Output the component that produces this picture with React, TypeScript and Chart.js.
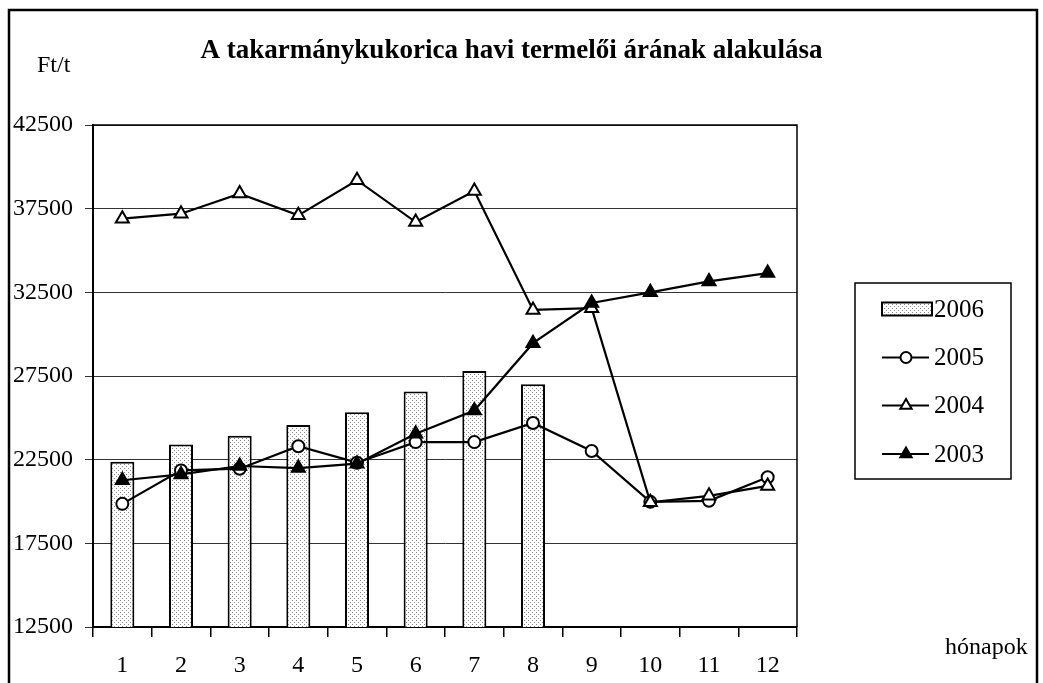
import React, { useEffect, useRef } from 'react';
import { Chart, registerables } from 'chart.js';

Chart.register(...registerables);

const months = ['1', '2', '3', '4', '5', '6', '7', '8', '9', '10', '11', '12'];
const prices2006 = [22380, 23410, 23930, 24570, 25340, 26570, 27800, 27000, null, null, null, null];
const prices2005 = [19860, 21860, 21960, 23300, 22320, 23550, 23550, 24690, 23020, 19980, 20040, 21450];
const prices2004 = [36900, 37200, 38400, 37100, 39200, 36700, 38550, 31450, 31550, 19950, 20340, 20930];
const prices2003 = [21270, 21620, 22120, 22000, 22260, 24050, 25440, 29460, 31860, 32500, 33150, 33650];
const yMin = 12500;
const yMax = 42500;
const yStep = 5000;

const titleText = 'A takarmánykukorica havi termelői árának alakulása';
const yUnitText = 'Ft/t';
const xAxisText = 'hónapok';

const FONT = "'Liberation Serif', 'Times New Roman', serif";

function makeDotPattern(): CanvasPattern | string {
  const c = document.createElement('canvas');
  c.width = 4;
  c.height = 4;
  const g = c.getContext('2d');
  if (!g) return '#ddd';
  g.fillStyle = '#ffffff';
  g.fillRect(0, 0, 4, 4);
  g.fillStyle = '#8a8a8a';
  g.fillRect(0, 0, 1, 1);
  g.fillRect(2, 2, 1, 1);
  const p = g.createPattern(c, 'repeat');
  return p || '#ddd';
}

export default function App() {
  const ref = useRef<HTMLCanvasElement | null>(null);

  useEffect(() => {
    const canvas = ref.current;
    if (!canvas) return;
    const pattern = makeDotPattern();

    const decor = {
      id: 'decor',
      afterDraw(chart: any) {
        const ctx = chart.ctx as CanvasRenderingContext2D;
        const a = chart.chartArea;
        ctx.save();
        // outer frame
        ctx.strokeStyle = '#000';
        ctx.lineWidth = 2.5;
        ctx.beginPath();
        ctx.moveTo(9, 700);
        ctx.lineTo(9, 10);
        ctx.lineTo(1037, 10);
        ctx.lineTo(1037, 700);
        ctx.stroke();
        // plot area right / top border
        ctx.lineWidth = 1.5;
        ctx.beginPath();
        ctx.moveTo(a.left, a.top);
        ctx.lineTo(a.right, a.top);
        ctx.lineTo(a.right, a.bottom);
        ctx.stroke();
        // title
        ctx.fillStyle = '#000';
        ctx.textBaseline = 'alphabetic';
        ctx.textAlign = 'center';
        ctx.font = `bold 27px ${FONT}`;
        ctx.fillText(titleText, 511.5, 58);
        ctx.textAlign = 'left';
        ctx.textBaseline = 'middle';
        ctx.font = `24px ${FONT}`;
        ctx.fillText(yUnitText, 37, 66);
        ctx.fillText(xAxisText, 945, 648);

        // legend
        ctx.lineWidth = 1.5;
        ctx.strokeRect(855, 283, 156, 196);
        const ys = [309, 357.5, 405.5, 454];
        const order = [3, 2, 1, 0];
        order.forEach((di, i) => {
          const ds = chart.data.datasets[di];
          const y = ys[i];
          if (ds.type === 'bar') {
            ctx.fillStyle = pattern as any;
            ctx.fillRect(882, y - 6.5, 50, 13);
            ctx.lineWidth = 2;
            ctx.strokeStyle = '#000';
            ctx.strokeRect(882, y - 6.5, 50, 13);
          } else {
            ctx.lineWidth = 2;
            ctx.strokeStyle = '#000';
            ctx.beginPath();
            ctx.moveTo(882, y);
            ctx.lineTo(929, y);
            ctx.stroke();
            ctx.fillStyle = ds.pointBackgroundColor;
            ctx.beginPath();
            if (ds.pointStyle === 'circle') {
              ctx.arc(906, y, 5.5, 0, Math.PI * 2);
            } else {
              const r = 6.5;
              ctx.moveTo(906, y - r);
              ctx.lineTo(906 + r * 0.866, y + r * 0.5);
              ctx.lineTo(906 - r * 0.866, y + r * 0.5);
              ctx.closePath();
            }
            ctx.fill();
            ctx.stroke();
          }
          ctx.fillStyle = '#000';
          ctx.font = `25px ${FONT}`;
          ctx.textAlign = 'left';
          ctx.textBaseline = 'middle';
          ctx.fillText(ds.label, 934, y + 1);
        });
        ctx.restore();
      },
    };

    const lineCommon = {
      type: 'line' as const,
      borderColor: '#000',
      borderWidth: 2.2,
      pointBorderColor: '#000',
      pointBorderWidth: 2,
      tension: 0,
      fill: false,
    };

    const chart = new Chart(canvas, {
      type: 'bar',
      data: {
        labels: months,
        datasets: [
          {
            ...lineCommon,
            label: '2003',
            data: prices2003,
            pointStyle: 'triangle',
            pointRadius: 7.5,
            pointBackgroundColor: '#000',
            order: 1,
          } as any,
          {
            ...lineCommon,
            label: '2004',
            data: prices2004,
            pointStyle: 'triangle',
            pointRadius: 7.5,
            pointBackgroundColor: '#fff',
            order: 2,
          } as any,
          {
            ...lineCommon,
            label: '2005',
            data: prices2005,
            pointStyle: 'circle',
            pointRadius: 6,
            pointBackgroundColor: '#fff',
            order: 3,
          } as any,
          {
            type: 'bar',
            label: '2006',
            data: prices2006,
            backgroundColor: pattern as any,
            borderColor: '#000',
            borderWidth: 2,
            barPercentage: 0.41,
            categoryPercentage: 1,
            order: 4,
          } as any,
        ],
      },
      options: {
        responsive: false,
        animation: false,
        devicePixelRatio: 1,
        layout: { padding: { left: 0, top: 125, right: 246, bottom: 0 } },
        plugins: {
          legend: { display: false },
          title: { display: false },
          tooltip: { enabled: false },
        },
        scales: {
          x: {
            offset: true,
            grid: {
              display: true,
              offset: true,
              drawOnChartArea: false,
              color: '#000',
              lineWidth: 1.5,
              tickLength: 10,
            },
            border: { display: true, color: '#000', width: 2 },
            ticks: {
              color: '#000',
              font: { family: FONT, size: 24 },
              padding: 14,
              maxRotation: 0,
            },
            afterFit: (s: any) => {
              s.height = 56;
            },
          },
          y: {
            min: yMin,
            max: yMax,
            ticks: {
              stepSize: yStep,
              color: '#000',
              font: { family: FONT, size: 24 },
              padding: 12,
              callback: (v: any) => String(v),
            },
            grid: {
              color: '#333',
              lineWidth: 1,
              tickLength: 8,
            },
            border: { display: true, color: '#000', width: 2 },
            afterFit: (s: any) => {
              s.width = 93;
            },
          },
        },
      },
      plugins: [decor],
    });

    return () => chart.destroy();
  }, []);

  return (
    <div style={{ position: 'absolute', left: 0, top: 0, width: 1043, height: 683, background: '#fff' }}>
      <canvas ref={ref} width={1043} height={683} style={{ display: 'block', width: 1043, height: 683 }} />
    </div>
  );
}
